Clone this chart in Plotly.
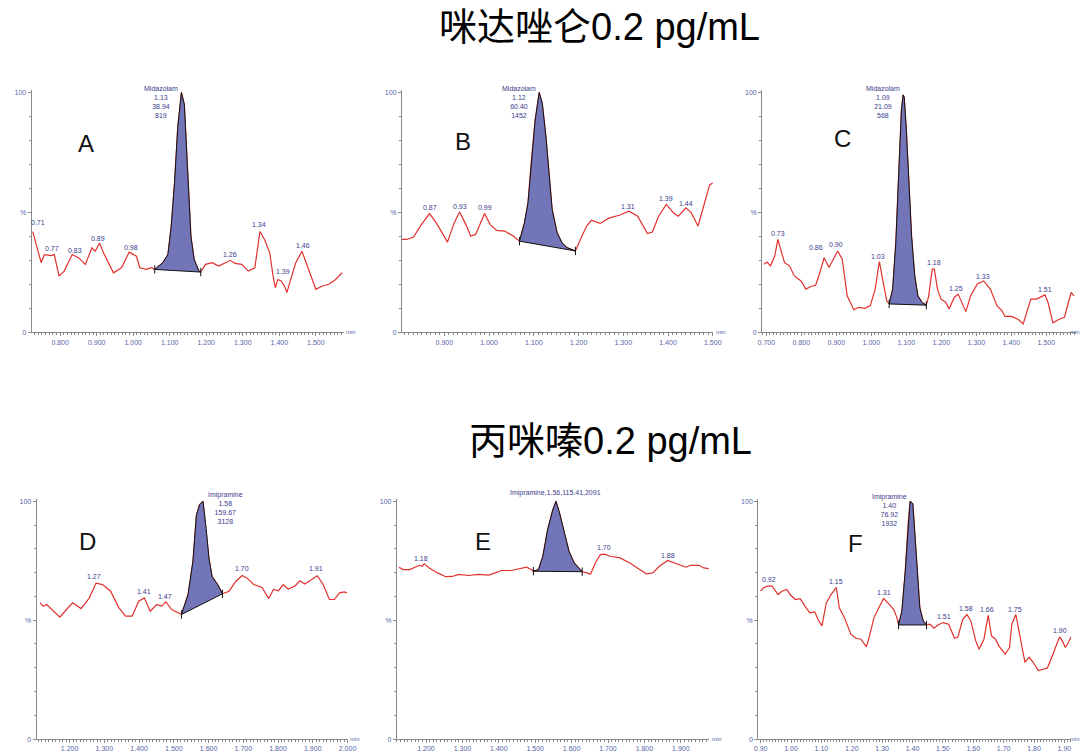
import plotly.graph_objects as go

# ---------------- data ----------------
titles = ["咪达唑仑0.2 pg/mL", "丙咪嗪0.2 pg/mL"]
letters = ["A", "B", "C", "D", "E", "F"]

# Panel A (Midazolam)
tA = [0.725, 0.748, 0.757, 0.775, 0.784, 0.797, 0.811, 0.833, 0.851, 0.869, 0.887, 0.896, 0.908, 0.919,
      0.946, 0.968, 0.989, 1.009, 1.018, 1.036, 1.050, 1.059, 1.081, 1.095, 1.104, 1.113, 1.122, 1.132,
      1.140, 1.149, 1.158, 1.167, 1.180, 1.185, 1.198, 1.216, 1.234, 1.266, 1.279, 1.297, 1.315, 1.333,
      1.347, 1.360, 1.374, 1.383, 1.389, 1.396, 1.405, 1.414, 1.421, 1.430, 1.445, 1.462, 1.477, 1.500,
      1.518, 1.536, 1.554, 1.572]
vA = [42, 29, 32.4, 32, 32.4, 23.4, 25.5, 32.4, 31, 28.3, 35.2, 33.8, 37.2, 33,
      24.8, 26.9, 33.4, 31.7, 26.9, 26.2, 26.9, 26.2, 29, 32.4, 44, 62, 85.5, 100,
      95, 67.6, 40, 30.3, 25.5, 25.1, 28.3, 29, 27.6, 30, 28.7, 28.3, 25.5, 26.9,
      42, 38.6, 33, 23.4, 18.6, 22, 21.4, 19.3, 16.6, 21.4, 29, 33.8, 27.6, 17.9,
      19.3, 20, 22, 24.8]

# Panel B (Midazolam)
tB = [0.805, 0.816, 0.831, 0.849, 0.867, 0.882, 0.907, 0.922, 0.934, 0.948, 0.959, 0.970, 0.990, 1.002,
      1.017, 1.035, 1.054, 1.068, 1.079, 1.087, 1.094, 1.103, 1.112, 1.119, 1.127, 1.134, 1.141, 1.152,
      1.163, 1.174, 1.193, 1.204, 1.218, 1.229, 1.248, 1.269, 1.291, 1.313, 1.332, 1.354, 1.365, 1.379,
      1.396, 1.412, 1.423, 1.440, 1.452, 1.467, 1.482, 1.493, 1.500]
vB = [38.7, 38.7, 39.7, 45, 49.5, 45.6, 37.6, 45.6, 50.2, 45, 40.1, 40.8, 49.5, 45,
      42.5, 42.2, 40.1, 38, 45.6, 54, 70.5, 88.5, 100, 95.4, 81.6, 65, 51.2, 41.5,
      37.3, 35.3, 33.9, 38.7, 44.3, 46.7, 45.4, 47.7, 48.8, 50.5, 48.4, 41.2, 41.8, 48.4,
      53.3, 49.8, 48.4, 51.9, 49.8, 44.3, 54, 61.5, 62.2]

# Panel C (Midazolam)
tC = [0.693, 0.702, 0.712, 0.724, 0.733, 0.742, 0.752, 0.766, 0.780, 0.799, 0.813, 0.827, 0.841, 0.853,
      0.865, 0.879, 0.893, 0.904, 0.917, 0.931, 0.950, 0.964, 0.982, 0.997, 1.011, 1.023, 1.034, 1.044,
      1.051, 1.061, 1.070, 1.079, 1.086, 1.091, 1.094, 1.100, 1.108, 1.115, 1.124, 1.133, 1.145, 1.157,
      1.164, 1.174, 1.180, 1.189, 1.199, 1.213, 1.222, 1.237, 1.248, 1.258, 1.270, 1.284, 1.303, 1.321,
      1.340, 1.359, 1.373, 1.382, 1.401, 1.420, 1.434, 1.444, 1.456, 1.472, 1.481, 1.496, 1.505, 1.519,
      1.538, 1.552, 1.563, 1.571, 1.579]
vC = [28.4, 29.3, 27.7, 31.8, 38.7, 33.9, 29, 27.7, 23.5, 21.4, 18, 19.1, 19.6, 24.9,
      31.1, 27, 31.1, 33.9, 30.4, 15.2, 9.4, 10.4, 10, 11.1, 18, 29.5, 20.7, 13.1,
      11.8, 18, 37.3, 67.8, 92.7, 99, 98, 84.4, 62.2, 40.1, 23.5, 15.2, 12.4, 11.3,
      15.2, 26.3, 26.3, 18, 13.8, 12.4, 9.7, 14.5, 15.9, 12.4, 8.6, 15.2, 20.1, 21.4,
      18, 11.1, 9, 6.6, 6.6, 5.3, 3.5, 8.3, 13.8, 13.8, 14.5, 15.6, 12.4, 3.9,
      5.5, 6.2, 12.4, 16.6, 15.2]

# Panel D (Imipramine)
tD = [1.115, 1.124, 1.134, 1.153, 1.172, 1.191, 1.209, 1.233, 1.257, 1.276, 1.295, 1.318, 1.342, 1.361,
      1.380, 1.399, 1.415, 1.432, 1.451, 1.465, 1.477, 1.494, 1.508, 1.522, 1.541, 1.555, 1.565, 1.574,
      1.584, 1.593, 1.601, 1.610, 1.626, 1.640, 1.659, 1.678, 1.697, 1.711, 1.730, 1.754, 1.773, 1.787,
      1.801, 1.815, 1.829, 1.848, 1.863, 1.877, 1.896, 1.913, 1.929, 1.948, 1.962, 1.977, 1.991, 1.998]
vD = [57.3, 55.9, 56.6, 53.8, 51.3, 54.5, 57.3, 54.9, 59.4, 65.6, 65, 62.2, 55.2, 51.7,
      51.7, 58, 59.4, 53.8, 56.6, 55.9, 57.7, 54.5, 53.5, 52.4, 60.8, 74.7, 94.2, 98.6,
      100, 88.6, 76.1, 68.4, 65, 61.1, 62.2, 66.3, 68.8, 67.7, 65, 63.8, 59.1, 62.9,
      62.4, 65, 63.1, 64.3, 66.6, 65.2, 67, 68.7, 65.2, 58.7, 58.7, 61.5, 61.9, 61.5]

# Panel E (Imipramine)
tE = [1.126, 1.137, 1.155, 1.173, 1.182, 1.189, 1.195, 1.209, 1.232, 1.254, 1.272, 1.290, 1.317, 1.345,
      1.372, 1.390, 1.408, 1.435, 1.457, 1.476, 1.489, 1.495, 1.509, 1.521, 1.534, 1.548, 1.557, 1.566,
      1.579, 1.593, 1.607, 1.629, 1.643, 1.652, 1.665, 1.679, 1.690, 1.706, 1.733, 1.760, 1.787, 1.805,
      1.823, 1.841, 1.864, 1.882, 1.900, 1.914, 1.927, 1.950, 1.963, 1.977]
vE = [72.3, 71.3, 71.3, 72.7, 73.1, 72.7, 73.7, 72, 69.9, 68.3, 68.4, 69.3, 68.8, 69.3,
      69, 69.9, 70.9, 70.9, 71.7, 72.3, 71.3, 70.6, 71.3, 76.9, 88, 96.3, 100, 95.6,
      87.3, 78.9, 74.1, 70.4, 69.9, 69.3, 74.1, 77.6, 77.8, 76.9, 76.2, 74.1, 71.3, 69.5,
      69.9, 72.7, 75.1, 74.1, 73.1, 72.3, 73.1, 73.1, 72, 71.7]

# Panel F (Imipramine)
tF = [0.900, 0.908, 0.922, 0.938, 0.957, 0.970, 0.986, 0.997, 1.014, 1.030, 1.046, 1.062, 1.078, 1.089,
      1.102, 1.116, 1.132, 1.149, 1.159, 1.176, 1.197, 1.214, 1.230, 1.248, 1.257, 1.273, 1.289, 1.305,
      1.322, 1.338, 1.349, 1.354, 1.365, 1.376, 1.386, 1.392, 1.401, 1.408, 1.417, 1.424, 1.435, 1.446,
      1.457, 1.471, 1.484, 1.500, 1.519, 1.538, 1.549, 1.565, 1.579, 1.592, 1.608, 1.619, 1.635, 1.649,
      1.660, 1.673, 1.684, 1.705, 1.719, 1.727, 1.740, 1.754, 1.770, 1.784, 1.797, 1.814, 1.830, 1.844,
      1.862, 1.884, 1.893, 1.903, 1.913, 1.922]
vF = [62.2, 63.6, 64.3, 64.3, 60.8, 62.2, 62.9, 60.8, 58.7, 59.1, 55.9, 53.1, 53.5, 50.3,
      47.6, 57.3, 60.8, 63.8, 55.2, 51, 44.1, 42.4, 42, 38.8, 42.7, 51, 55.2, 59.1,
      56.9, 54.5, 51, 48, 53.8, 70.5, 91.4, 100, 99, 84.4, 67.7, 55.2, 49.7, 48,
      48.3, 46.6, 48, 49, 48.3, 42.4, 42.8, 50.3, 52.4, 49.7, 41.3, 37.8, 42, 52,
      43.4, 42, 39.2, 35.7, 38.5, 48.3, 52.4, 43.4, 32.3, 34.4, 32.3, 28.8, 29.5, 29.9,
      35.7, 43, 41.3, 38.5, 40.6, 43]

series_t = [tA, tB, tC, tD, tE, tF]
series_v = [vA, vB, vC, vD, vE, vF]

# integrated peak windows (start, end) in min
peak_start = [1.059, 1.068, 1.051, 1.522, 1.495, 1.354]
peak_end = [1.185, 1.193, 1.157, 1.640, 1.629, 1.446]
peak_apex = [1.132, 1.112, 1.091, 1.584, 1.557, 1.392]
peak_text = ["Midazolam<br>1.13<br>38.94<br>819",
             "Midazolam<br>1.12<br>60.40<br>1452",
             "Midazolam<br>1.09<br>21.09<br>568",
             "Imipramine<br>1.58<br>159.67<br>3128",
             "Imipramine,1.56,115.41,2091",
             "Imipramine<br>1.40<br>76.92<br>1932"]

# small peak labels: (text, time, level)
minor_labels = [
    [("0.71", 0.739, 45.8), ("0.77", 0.777, 34.8), ("0.83", 0.840, 34.2), ("0.89", 0.905, 39.0),
     ("0.98", 0.994, 35.2), ("1.26", 1.264, 32.3), ("1.34", 1.344, 44.8), ("1.39", 1.410, 25.5),
     ("1.46", 1.464, 36.3)],
    [("0.87", 0.867, 51.9), ("0.93", 0.934, 52.6), ("0.99", 0.990, 51.9), ("1.31", 1.310, 52.6),
     ("1.39", 1.396, 55.6), ("1.44", 1.441, 53.9)],
    [("0.73", 0.733, 41.2), ("0.86", 0.841, 35.3), ("0.90", 0.898, 36.4), ("1.03", 1.020, 31.5),
     ("1.18", 1.180, 29.0), ("1.25", 1.243, 18.4), ("1.33", 1.319, 23.2), ("1.51", 1.496, 18.0)],
    [("1.27", 1.269, 68.4), ("1.41", 1.415, 61.9), ("1.47", 1.475, 60.1), ("1.70", 1.697, 71.6),
     ("1.91", 1.910, 71.6)],
    [("1.18", 1.186, 75.9), ("1.70", 1.690, 80.6), ("1.88", 1.864, 77.3)],
    [("0.92", 0.927, 67.0), ("1.15", 1.149, 66.3), ("1.31", 1.305, 61.8), ("1.51", 1.502, 51.7),
     ("1.58", 1.576, 54.9), ("1.66", 1.646, 54.5), ("1.75", 1.738, 54.5), ("1.90", 1.884, 45.5)],
]

x_ranges = [[0.722, 1.576], [0.805, 1.500], [0.688, 1.585],
            [1.105, 2.000], [1.120, 1.977], [0.892, 1.922]]
x_formats = [".3f", ".3f", ".3f", ".3f", ".3f", ".2f"]

# ---------------- layout geometry (page pixels) ----------------
W, H = 1089, 756


def px(p):
    return p / W


def py(p):
    return (H - p) / H


# (x_left_px, x_right_px, y0_px, y100_px)
geom = [(27, 343, 333, 92), (402, 717, 333, 92), (767, 1085, 333, 92),
        (32, 347, 742, 503), (397, 713, 742, 503), (763, 1080, 742, 503)]
letter_pos = [(82, 143), (464, 141), (848, 138), (84, 543), (484, 543), (862, 545)]
YTOP = 101.0

RED = "#e2302c"
FILL = "#7276b8"
TICK_C = "#8a8a8a"
LBL_C = "#5566aa"
TXT_C = "#3c3c8c"
FONT = "Liberation Sans, Arial, sans-serif"

fig = go.Figure()
annotations = []
layout_axes = {}

for i in range(6):
    n = "" if i == 0 else str(i + 1)
    xa, ya = "x" + n, "y" + n
    xl, xr, y0, y100 = geom[i]
    ytop_px = y0 - (y0 - y100) * YTOP / 100.0
    layout_axes["xaxis" + n] = dict(
        domain=[px(xl), min(px(xr), 1.0)], range=x_ranges[i], anchor=ya,
        showline=True, linecolor=TICK_C, linewidth=1, mirror=False,
        ticks="outside", ticklen=3, tickcolor=TICK_C, tickwidth=1,
        dtick=0.1, tick0=0, tickformat=x_formats[i],
        tickfont=dict(size=7, color=LBL_C, family=FONT),
        minor=dict(dtick=0.01, tick0=0, ticks="outside", ticklen=2, tickcolor=TICK_C, tickwidth=1),
        showgrid=False, zeroline=False, fixedrange=True)
    layout_axes["yaxis" + n] = dict(
        domain=[py(y0), py(ytop_px)], range=[0, YTOP], anchor=xa,
        showline=True, linecolor=TICK_C, linewidth=1,
        ticks="outside", ticklen=3, tickcolor=TICK_C, tickwidth=1,
        tickvals=[0, 50, 100], ticktext=["0", "%", "100"],
        tickfont=dict(size=7, color=LBL_C, family=FONT),
        minor=dict(dtick=10, tick0=0, ticks="outside", ticklen=2, tickcolor=TICK_C, tickwidth=1),
        showgrid=False, zeroline=False, fixedrange=True)

    t, v = series_t[i], series_v[i]
    # chromatogram line
    fig.add_trace(go.Scatter(x=t, y=v, xaxis=xa, yaxis=ya, mode="lines",
                             line=dict(color=RED, width=1.2), hoverinfo="skip", showlegend=False))
    # integrated peak polygon
    pt = [a for a in t if peak_start[i] - 1e-9 <= a <= peak_end[i] + 1e-9]
    pv = [b for a, b in zip(t, v) if peak_start[i] - 1e-9 <= a <= peak_end[i] + 1e-9]
    fig.add_trace(go.Scatter(x=pt + [pt[0]], y=pv + [pv[0]], xaxis=xa, yaxis=ya, mode="lines",
                             fill="toself", fillcolor=FILL, line=dict(color="#111111", width=1),
                             hoverinfo="skip", showlegend=False))
    # baseline end markers
    fig.add_trace(go.Scatter(x=[pt[0], pt[-1]], y=[pv[0], pv[-1]], xaxis=xa, yaxis=ya, mode="markers",
                             marker=dict(symbol="line-ns-open", size=6, color="#111111",
                                         line=dict(color="#111111", width=1)),
                             hoverinfo="skip", showlegend=False, cliponaxis=False))

    # main peak label
    apex = peak_apex[i]
    if i == 4:
        annotations.append(dict(x=apex, y=100, xref=xa, yref=ya, text=peak_text[i], showarrow=False,
                                xanchor="center", yanchor="bottom", yshift=2,
                                font=dict(size=7, color=TXT_C, family=FONT)))
    elif i == 3:
        annotations.append(dict(x=apex, y=100, xref=xa, yref=ya, text=peak_text[i], showarrow=False,
                                xanchor="left", yanchor="top", yshift=12, xshift=3, align="center",
                                font=dict(size=7, color=TXT_C, family=FONT)))
    else:
        annotations.append(dict(x=apex, y=100, xref=xa, yref=ya, text=peak_text[i], showarrow=False,
                                xanchor="right", yanchor="top", yshift=10, xshift=-1, align="center",
                                font=dict(size=7, color=TXT_C, family=FONT)))
    # minor labels
    for txt, lx, ly in minor_labels[i]:
        annotations.append(dict(x=lx, y=ly, xref=xa, yref=ya, text=txt, showarrow=False,
                                xanchor="center", yanchor="middle",
                                font=dict(size=7, color=TXT_C, family=FONT)))
    # "min" unit label
    annotations.append(dict(x=min(px(xr + 8), 0.995), y=py(y0), xref="paper", yref="paper", text="min",
                            showarrow=False, xanchor="center", yanchor="middle",
                            font=dict(size=6, color=LBL_C, family=FONT)))
    # panel letter
    lx, ly = letter_pos[i]
    annotations.append(dict(x=px(lx), y=py(ly), xref="paper", yref="paper", text=letters[i],
                            showarrow=False, xanchor="center", yanchor="middle",
                            font=dict(size=24, color="#111111", family=FONT)))

# titles
annotations.append(dict(x=px(602), y=py(26), xref="paper", yref="paper", text=titles[0],
                        showarrow=False, xanchor="center", yanchor="middle",
                        font=dict(size=38, color="#000000", family="Liberation Sans, Noto Sans CJK SC")))
annotations.append(dict(x=px(613), y=py(442), xref="paper", yref="paper", text=titles[1],
                        showarrow=False, xanchor="center", yanchor="middle",
                        font=dict(size=38, color="#000000", family="Liberation Sans, Noto Sans CJK SC")))

fig.update_layout(width=W, height=H, margin=dict(l=0, r=0, t=0, b=0),
                  paper_bgcolor="white", plot_bgcolor="white",
                  annotations=annotations, showlegend=False, **layout_axes)

fig.write_html("out.html", config={"displayModeBar": False},
               post_script="document.body.style.margin='0px';")
